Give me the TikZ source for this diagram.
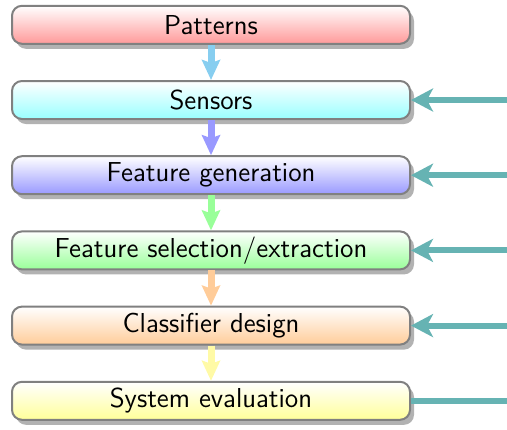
\documentclass[tikz,border=0pt]{standalone}
\usepackage{fontspec}
\usetikzlibrary{shadows,arrows.meta}
\definecolor{arrA}{RGB}{135,206,240}
\definecolor{sidec}{RGB}{102,179,179}
\tikzset{
  stagebox/.style={rectangle, rounded corners=5pt, draw=gray, line width=1pt,
    minimum width=199pt, minimum height=19pt, inner sep=0pt,
    top color=white, bottom color=#1,
    drop shadow={shadow xshift=2pt, shadow yshift=-2.5pt, fill=black, opacity=0.3},
    font=\sffamily\fontsize{13.7}{15}\selectfont},
  downarrow/.style={draw=#1, line width=3.5pt, -{Stealth[length=10pt,width=9pt,inset=1.5pt]}},
  sidearrow/.style={draw=sidec, line width=3pt, -{Stealth[length=11pt,width=11.5pt,inset=3pt]}},
  sideline/.style={draw=sidec, line width=3pt}
}
\begin{document}
\begin{tikzpicture}[x=0.5pt,y=-0.5pt]
\useasboundingbox (0,0) rectangle (507,429);
\coordinate (c1) at (211,24.8);
\coordinate (c2) at (211,100);
\coordinate (c3) at (211,175.2);
\coordinate (c4) at (211,250.4);
\coordinate (c5) at (211,325.6);
\coordinate (c6) at (211,400.8);
\node[stagebox=red!40] (b1) at (c1) {Patterns};
\node[stagebox=cyan!40] (b2) at (c2) {Sensors};
\node[stagebox=blue!40] (b3) at (c3) {Feature generation};
\node[stagebox=green!40] (b4) at (c4) {Feature selection/extraction};
\node[stagebox=orange!40] (b5) at (c5) {Classifier design};
\node[stagebox=yellow!40] (b6) at (c6) {System evaluation};
\draw[downarrow=arrA] (b1.south) -- (b2.north);
\draw[downarrow=blue!40] (b2.south) -- (b3.north);
\draw[downarrow=green!40] (b3.south) -- (b4.north);
\draw[downarrow=orange!40] (b4.south) -- (b5.north);
\draw[downarrow=yellow!35] (b5.south) -- (b6.north);
\coordinate (r2) at (512,100);
\coordinate (r3) at (512,175.2);
\coordinate (r4) at (512,250.4);
\coordinate (r5) at (512,325.6);
\coordinate (r6) at (512,400.8);
\draw[sidearrow] (r2) -- (b2.east);
\draw[sidearrow] (r3) -- (b3.east);
\draw[sidearrow] (r4) -- (b4.east);
\draw[sidearrow] (r5) -- (b5.east);
\draw[sideline] (r6) -- (b6.east);
\end{tikzpicture}
\end{document}
